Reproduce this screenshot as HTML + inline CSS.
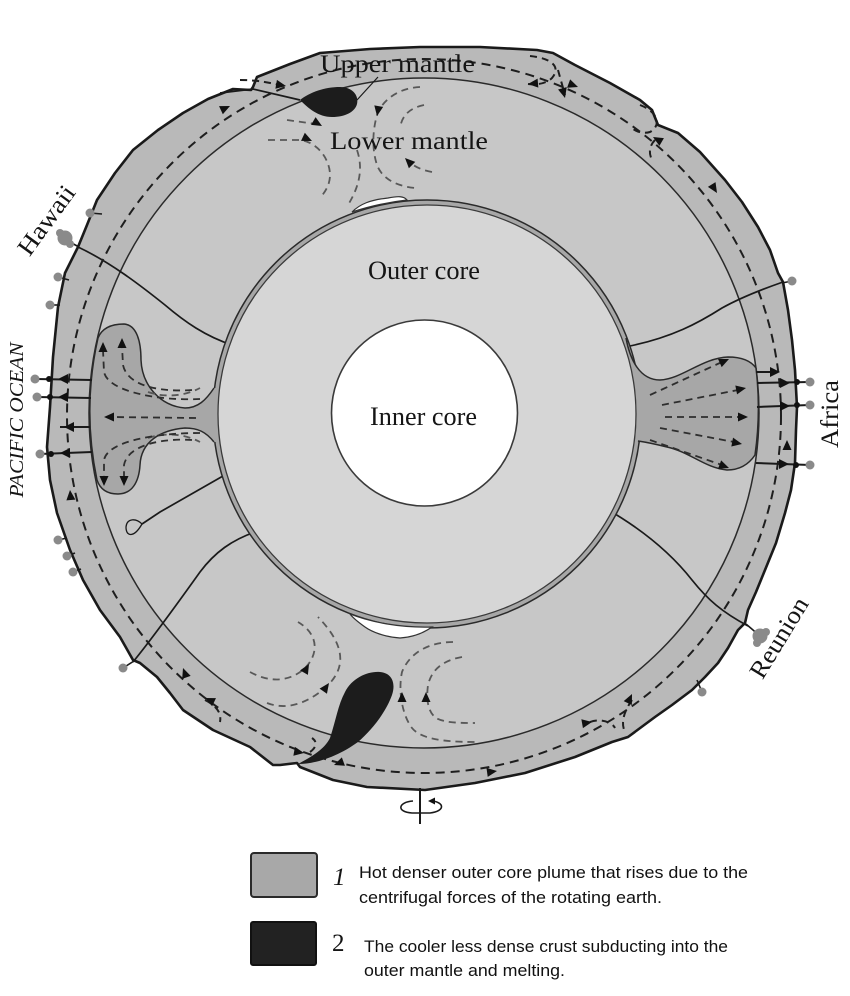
<!DOCTYPE html>
<html>
<head>
<meta charset="utf-8">
<style>
  html,body{margin:0;padding:0;background:#fff;}
  svg{display:block;}
  .serif{font-family:"Liberation Serif","DejaVu Serif",serif;fill:#151515;}
  .sans{font-family:"Liberation Sans","DejaVu Sans",sans-serif;fill:#111;}
</style>
</head>
<body>
<svg width="850" height="996" viewBox="0 0 850 996" xmlns="http://www.w3.org/2000/svg">
  <rect width="850" height="996" fill="#fff"/>

  <!-- Outer crust / upper mantle band -->
  <path d="M253,87 L257,77 L290,64 L320,53 L370,49 L420,47 L480,47 L537,50 L553,53 L575,65 L610,83 L640,100 L652,110 L658,125 L678,133 L700,152 L725,180 L742,202 L758,227 L770,250 L778,273 L783,282 L788,310 L792,340 L795,370 L797,407 L796,430 L795,463 L791,490 L785,513 L776,543 L765,570 L756,592 L748,610 L745,623 L738,630 L728,648 L718,663 L705,677 L692,690 L672,705 L655,717 L628,737 L612,742 L575,757 L525,773 L475,783 L425,790 L367,787 L333,780 L300,767 L297,763 L280,765 L273,765 L250,747 L213,730 L183,710 L170,693 L157,677 L140,663 L133,660 L120,637 L100,610 L83,580 L70,550 L57,513 L50,480 L47,447 L50,407 L53,357 L58,307 L65,273 L78,247 L87,225 L97,200 L115,173 L133,150 L158,130 L183,113 L208,99 L233,89 L251,90 Z"
        fill="#b9b9b9" stroke="#1a1a1a" stroke-width="2.6" stroke-linejoin="round"/>

  <!-- Lower mantle -->
  <circle cx="424" cy="413" r="335" fill="#c7c7c7" stroke="#2a2a2a" stroke-width="1.5"/>

  <!-- Plate / sector lines -->
  <g fill="none" stroke="#1a1a1a" stroke-width="1.7">
    <path d="M78,247 C110,262 140,285 165,305 C185,322 205,336 232,345"/>
    <path d="M783,282 C760,290 740,298 722,308 C700,322 672,338 625,347"/>
    <path d="M133,662 C155,635 180,600 200,572 C215,552 232,540 255,532"/>
    <path d="M230,472 L160,512 L142,524"/>
    <path d="M142,524 C136,518 127,518 126,527 C126,537 134,538 142,524 Z" stroke-width="1.3"/>
    <path d="M605,508 C640,528 670,552 692,580 C708,600 722,612 748,626"/>
    <path d="M220,93 L253,89 L300,100"/>
    <path d="M357,100 L378,77" stroke-width="1.2"/>
  </g>

  <!-- Outer core band -->
  <circle cx="427" cy="414" r="214" fill="#a7a7a7" stroke="#2a2a2a" stroke-width="1.5"/>

  <!-- Left plume -->
  <path d="M98,338 C102,328 112,324 124,324 C137,325 141,342 141,360 C142,385 160,406 185,408 C198,408 206,400 214,388 L260,388 L260,442 L214,442 C206,432 198,428 185,428 C160,430 141,442 140,465 C139,482 132,494 118,494 C107,494 100,489 97,480 A335,335 0 0 1 98,338 Z" fill="#a7a7a7"/>
  <g fill="none" stroke="#2a2a2a" stroke-width="1.5">
    <path d="M214,388 C206,400 198,408 185,408 C160,406 142,385 141,360 C141,342 137,325 124,324 C112,324 102,328 98,338"/>
    <path d="M214,442 C206,432 198,428 185,428 C160,430 141,442 140,465 C139,482 132,494 118,494 C107,494 100,489 97,480"/>
    <path d="M97,480 A335,335 0 0 1 98,338"/>
  </g>

  <!-- Right plume -->
  <path d="M626,338 C630,360 640,380 660,380 C682,379 702,358 728,357 C742,357 751,361 756,368 A335,335 0 0 1 755,455 C749,464 740,470 727,470 C705,468 690,452 667,447 C655,444 645,442 636,441 L600,441 L600,338 Z" fill="#a7a7a7"/>
  <g fill="none" stroke="#2a2a2a" stroke-width="1.5">
    <path d="M626,338 C630,360 640,380 660,380 C682,379 702,358 728,357 C742,357 751,361 756,368"/>
    <path d="M755,455 C749,464 740,470 727,470 C705,468 690,452 667,447 C655,444 645,442 638,441"/>
    <path d="M756,368 A335,335 0 0 1 755,455"/>
  </g>

  <!-- Outer core disk -->
  <circle cx="427" cy="414" r="209" fill="#d6d6d6" stroke="#3a3a3a" stroke-width="1.3"/>

  <!-- White gaps -->
  <path d="M352,212 C360,204 370,200 388,198 C398,196 404,196 407,200 C390,202 370,206 352,212 Z" fill="#fff" stroke="#333" stroke-width="1.2"/>
  <path d="M350,614 C370,622 400,628 432,627 C425,632 415,637 400,638 C385,637 372,632 365,627 C358,622 353,618 350,614 Z" fill="#fff" stroke="#333" stroke-width="1.2"/>

  <!-- Inner core -->
  <circle cx="424.5" cy="413" r="93" fill="#fff" stroke="#3a3a3a" stroke-width="1.6"/>

  <!-- Upper mantle dashed flow -->
  <circle cx="424" cy="416" r="357" fill="none" stroke="#1e1e1e" stroke-width="2" stroke-dasharray="9 6"/>
  <g fill="none" stroke="#1e1e1e" stroke-width="2" stroke-dasharray="7 5">
    <path d="M530,56 C550,58 562,66 552,78 C546,84 536,85 528,84"/>
    <path d="M558,70 L565,95"/>
    <path d="M640,105 C658,112 662,125 650,132 C644,134 636,132 632,128"/>
    <path d="M655,140 C650,145 648,152 652,160"/>
    <path d="M240,80 C258,80 272,83 283,86"/>
    <path d="M205,700 C215,705 222,712 220,722"/>
    <path d="M590,722 C600,718 612,722 615,728"/>
    <path d="M632,700 C625,710 620,722 625,732"/>
    <path d="M310,752 C316,748 318,742 312,738"/>
  </g>

  <!-- Lower mantle gray dashed flows -->
  <g fill="none" stroke="#585858" stroke-width="1.8" stroke-dasharray="7 5">
    <path d="M268,140 L300,140 C318,142 330,160 330,175 C330,185 325,192 320,198"/>
    <path d="M287,120 L316,124"/>
    <path d="M357,150 C362,165 362,182 348,205"/>
    <path d="M420,87 C400,88 385,98 378,112 C372,130 372,150 377,165 C382,178 395,186 415,188"/>
    <path d="M424,105 C410,108 402,115 400,128"/>
    <path d="M432,172 C420,170 412,165 407,160"/>
    <path d="M250,672 C270,683 290,682 305,668 C318,655 320,635 298,622"/>
    <path d="M267,703 C285,710 305,705 325,688 C345,670 348,648 318,617"/>
    <path d="M453,642 C430,642 410,652 402,672 C398,690 402,715 412,728 C420,738 440,742 475,742"/>
    <path d="M462,657 C445,660 432,668 428,685 C426,700 428,712 436,718 C445,723 460,723 475,723"/>
    <path d="M148,392 C165,398 185,396 200,388" />
    <path d="M148,438 C165,432 185,434 200,442" />
  </g>

  <!-- Plume dashed arrows -->
  <g fill="none" stroke="#2e2e2e" stroke-width="1.8" stroke-dasharray="7 5">
    <path d="M196,418 L110,417"/>
    <path d="M192,390 C165,392 128,388 123,365 L122,346"/>
    <path d="M200,399 C160,401 108,392 104,372 L103,350"/>
    <path d="M192,440 C165,438 128,444 124,465 L124,478"/>
    <path d="M200,433 C160,433 108,440 104,460 L104,478"/>
    <path d="M650,395 L722,362"/>
    <path d="M662,405 L738,390"/>
    <path d="M665,417 L740,417"/>
    <path d="M660,428 L734,442"/>
    <path d="M650,440 L722,465"/>
  </g>

  <!-- Row connector lines (plume to crust) -->
  <g stroke="#1a1a1a" stroke-width="2" fill="none">
    <line x1="92" y1="380" x2="36" y2="379"/>
    <line x1="91" y1="398" x2="37" y2="397"/>
    <line x1="90" y1="427" x2="60" y2="427"/>
    <line x1="92" y1="452" x2="40" y2="454"/>
    <line x1="756" y1="372" x2="778" y2="372"/>
    <line x1="757" y1="383" x2="810" y2="382"/>
    <line x1="757" y1="407" x2="810" y2="405"/>
    <line x1="756" y1="463" x2="810" y2="465"/>
  </g>

  <!-- Hotspot stems -->
  <g stroke="#1a1a1a" stroke-width="1.6" fill="none">
    <line x1="90" y1="213" x2="102" y2="214"/>
    <line x1="66" y1="240" x2="79" y2="247"/>
    <line x1="58" y1="277" x2="69" y2="280"/>
    <line x1="50" y1="305" x2="60" y2="305"/>
    <line x1="58" y1="540" x2="67" y2="538"/>
    <line x1="67" y1="556" x2="75" y2="553"/>
    <line x1="73" y1="572" x2="81" y2="569"/>
    <line x1="123" y1="668" x2="134" y2="661"/>
    <line x1="792" y1="281" x2="782" y2="283"/>
    <line x1="760" y1="636" x2="746" y2="624"/>
    <line x1="702" y1="692" x2="697" y2="680"/>
  </g>
  <!-- Hotspot dots -->
  <g fill="#8a8a8a">
    <circle cx="90" cy="213" r="4.5"/>
    <circle cx="65" cy="238" r="7.5"/>
    <circle cx="60" cy="233" r="4"/>
    <circle cx="70" cy="244" r="4"/>
    <circle cx="58" cy="277" r="4.5"/>
    <circle cx="50" cy="305" r="4.5"/>
    <circle cx="35" cy="379" r="4.5"/>
    <circle cx="37" cy="397" r="4.5"/>
    <circle cx="40" cy="454" r="4.5"/>
    <circle cx="58" cy="540" r="4.5"/>
    <circle cx="67" cy="556" r="4.5"/>
    <circle cx="73" cy="572" r="4.5"/>
    <circle cx="123" cy="668" r="4.5"/>
    <circle cx="792" cy="281" r="4.5"/>
    <circle cx="810" cy="382" r="4.5"/>
    <circle cx="810" cy="405" r="4.5"/>
    <circle cx="810" cy="465" r="4.5"/>
    <circle cx="760" cy="636" r="7.5"/>
    <circle cx="766" cy="632" r="4"/>
    <circle cx="757" cy="643" r="4"/>
    <circle cx="702" cy="692" r="4.5"/>
  </g>
  <!-- crust junction dots -->
  <g fill="#111">
    <circle cx="49" cy="379" r="3"/>
    <circle cx="50" cy="397" r="3"/>
    <circle cx="51" cy="454" r="3"/>
    <circle cx="797" cy="382" r="3"/>
    <circle cx="797" cy="405" r="3"/>
    <circle cx="796" cy="465" r="3"/>
  </g>

  <!-- Arrowheads -->
  <g fill="#111">
    <path d="M0,0 L10,-5 L10,5 Z" transform="translate(58,379)"/>
    <path d="M0,0 L10,-5 L10,5 Z" transform="translate(58,397)"/>
    <path d="M0,0 L10,-5 L10,5 Z" transform="translate(64,427)"/>
    <path d="M0,0 L10,-5 L10,5 Z" transform="translate(60,453)"/>
    <path d="M0,0 L-10,-5 L-10,5 Z" transform="translate(780,372)"/>
    <path d="M0,0 L-10,-5 L-10,5 Z" transform="translate(790,383)"/>
    <path d="M0,0 L-10,-5 L-10,5 Z" transform="translate(790,406)"/>
    <path d="M0,0 L-10,-5 L-10,5 Z" transform="translate(789,464)"/>
    <path d="M0,0 L-10,-4.5 L-10,4.5 Z" transform="translate(104,417) rotate(180)"/>
    <path d="M0,0 L-10,-4.5 L-10,4.5 Z" transform="translate(122,338) rotate(-90)"/>
    <path d="M0,0 L-10,-4.5 L-10,4.5 Z" transform="translate(103,342) rotate(-90)"/>
    <path d="M0,0 L-10,-4.5 L-10,4.5 Z" transform="translate(124,486) rotate(90)"/>
    <path d="M0,0 L-10,-4.5 L-10,4.5 Z" transform="translate(104,486) rotate(90)"/>
    <path d="M0,0 L-10,-4.5 L-10,4.5 Z" transform="translate(729,359) rotate(-24)"/>
    <path d="M0,0 L-10,-4.5 L-10,4.5 Z" transform="translate(746,388) rotate(-11)"/>
    <path d="M0,0 L-10,-4.5 L-10,4.5 Z" transform="translate(748,417)"/>
    <path d="M0,0 L-10,-4.5 L-10,4.5 Z" transform="translate(742,444) rotate(11)"/>
    <path d="M0,0 L-10,-4.5 L-10,4.5 Z" transform="translate(729,468) rotate(20)"/>
    <path d="M0,0 L-10,-4.5 L-10,4.5 Z" transform="translate(312,141) rotate(25)"/>
    <path d="M0,0 L-10,-4.5 L-10,4.5 Z" transform="translate(322,126) rotate(30)"/>
    <path d="M0,0 L-10,-4.5 L-10,4.5 Z" transform="translate(377,116) rotate(100)"/>
    <path d="M0,0 L-10,-4.5 L-10,4.5 Z" transform="translate(405,158) rotate(-135)"/>
    <path d="M0,0 L-10,-4.5 L-10,4.5 Z" transform="translate(309,664) rotate(-60)"/>
    <path d="M0,0 L-10,-4.5 L-10,4.5 Z" transform="translate(329,683) rotate(-55)"/>
    <path d="M0,0 L-10,-4.5 L-10,4.5 Z" transform="translate(402,692) rotate(-90)"/>
    <path d="M0,0 L-10,-4.5 L-10,4.5 Z" transform="translate(426,692) rotate(-90)"/>
    <path d="M0,0 L-10,-4.5 L-10,4.5 Z" transform="translate(230,106) rotate(-25)"/>
    <path d="M0,0 L-10,-4.5 L-10,4.5 Z" transform="translate(286,86) rotate(10)"/>
    <path d="M0,0 L-10,-4.5 L-10,4.5 Z" transform="translate(70,490) rotate(-95)"/>
    <path d="M0,0 L-10,-4.5 L-10,4.5 Z" transform="translate(183,668) rotate(-110)"/>
    <path d="M0,0 L-10,-4.5 L-10,4.5 Z" transform="translate(205,698) rotate(-155)"/>
    <path d="M0,0 L-10,-4.5 L-10,4.5 Z" transform="translate(304,753) rotate(10)"/>
    <path d="M0,0 L-10,-4.5 L-10,4.5 Z" transform="translate(334,765) rotate(160)"/>
    <path d="M0,0 L-10,-4.5 L-10,4.5 Z" transform="translate(497,771) rotate(-8)"/>
    <path d="M0,0 L-10,-4.5 L-10,4.5 Z" transform="translate(592,722) rotate(-10)"/>
    <path d="M0,0 L-10,-4.5 L-10,4.5 Z" transform="translate(632,694) rotate(-65)"/>
    <path d="M0,0 L-10,-4.5 L-10,4.5 Z" transform="translate(787,440) rotate(-90)"/>
    <path d="M0,0 L-10,-4.5 L-10,4.5 Z" transform="translate(717,193) rotate(58)"/>
    <path d="M0,0 L-10,-4.5 L-10,4.5 Z" transform="translate(653,137) rotate(-150)"/>
    <path d="M0,0 L-10,-4.5 L-10,4.5 Z" transform="translate(578,87) rotate(20)"/>
    <path d="M0,0 L-10,-4.5 L-10,4.5 Z" transform="translate(528,84) rotate(175)"/>
    <path d="M0,0 L-10,-4.5 L-10,4.5 Z" transform="translate(565,98) rotate(75)"/>
  </g>

  <!-- Subducting black blobs -->
  <path d="M300,100 C310,92 325,87 340,87 C352,87 359,95 357,104 C355,112 345,117 332,117 C318,117 308,108 300,100 Z" fill="#1c1c1c"/>
  <path d="M298,764 C315,755 325,748 330,738 C336,720 338,705 345,692 C352,678 368,671 380,672 C392,673 396,683 392,695 C386,712 372,730 358,742 C340,755 318,764 298,764 Z" fill="#1c1c1c"/>

  <!-- Rotation symbol -->
  <line x1="420" y1="788" x2="420" y2="824" stroke="#1a1a1a" stroke-width="2"/>
  <path d="M413,801 C398,802 396,812 412,813 L430,813 C446,811 444,802 432,801" fill="none" stroke="#1a1a1a" stroke-width="1.6"/>
  <path d="M0,0 L-7,-3.5 L-7,3.5 Z" transform="translate(428,801) rotate(180)" fill="#111"/>

  <!-- Labels -->
  <text class="serif" x="320" y="72" font-size="25" textLength="155" lengthAdjust="spacingAndGlyphs">Upper mantle</text>
  <text class="serif" x="330" y="149" font-size="25" textLength="158" lengthAdjust="spacingAndGlyphs">Lower mantle</text>
  <text class="serif" x="368" y="279" font-size="26" textLength="112" lengthAdjust="spacingAndGlyphs">Outer core</text>
  <text class="serif" x="370" y="425" font-size="26" textLength="107" lengthAdjust="spacingAndGlyphs">Inner core</text>
  <text class="serif" font-size="25" text-anchor="middle" textLength="80" lengthAdjust="spacingAndGlyphs" transform="translate(53,225) rotate(-54)">Hawaii</text>
  <text class="serif" font-size="20" font-style="italic" text-anchor="middle" textLength="155" lengthAdjust="spacingAndGlyphs" transform="translate(23,420) rotate(-90)">PACIFIC OCEAN</text>
  <text class="serif" font-size="25" text-anchor="middle" textLength="68" lengthAdjust="spacingAndGlyphs" transform="translate(838,414) rotate(-90)">Africa</text>
  <text class="serif" font-size="25" text-anchor="middle" textLength="90" lengthAdjust="spacingAndGlyphs" transform="translate(786,642) rotate(-58.6)">Reunion</text>

  <!-- Legend -->
  <rect x="251" y="853" width="66" height="44" rx="3" fill="#a8a8a8" stroke="#2a2a2a" stroke-width="2"/>
  <rect x="251" y="922" width="65" height="43" rx="2" fill="#222" stroke="#111" stroke-width="2"/>
  <text class="serif" x="333" y="885" font-size="25" font-style="italic">1</text>
  <text class="serif" x="332" y="951" font-size="25">2</text>
  <text class="sans" x="359" y="878" font-size="17" textLength="389" lengthAdjust="spacingAndGlyphs">Hot denser outer core plume that rises due to the</text>
  <text class="sans" x="359" y="903" font-size="17" textLength="303" lengthAdjust="spacingAndGlyphs">centrifugal forces of the rotating earth.</text>
  <text class="sans" x="364" y="952" font-size="17" textLength="364" lengthAdjust="spacingAndGlyphs">The cooler less dense crust subducting into the</text>
  <text class="sans" x="364" y="976" font-size="17" textLength="201" lengthAdjust="spacingAndGlyphs">outer mantle and melting.</text>
</svg>
</body>
</html>
